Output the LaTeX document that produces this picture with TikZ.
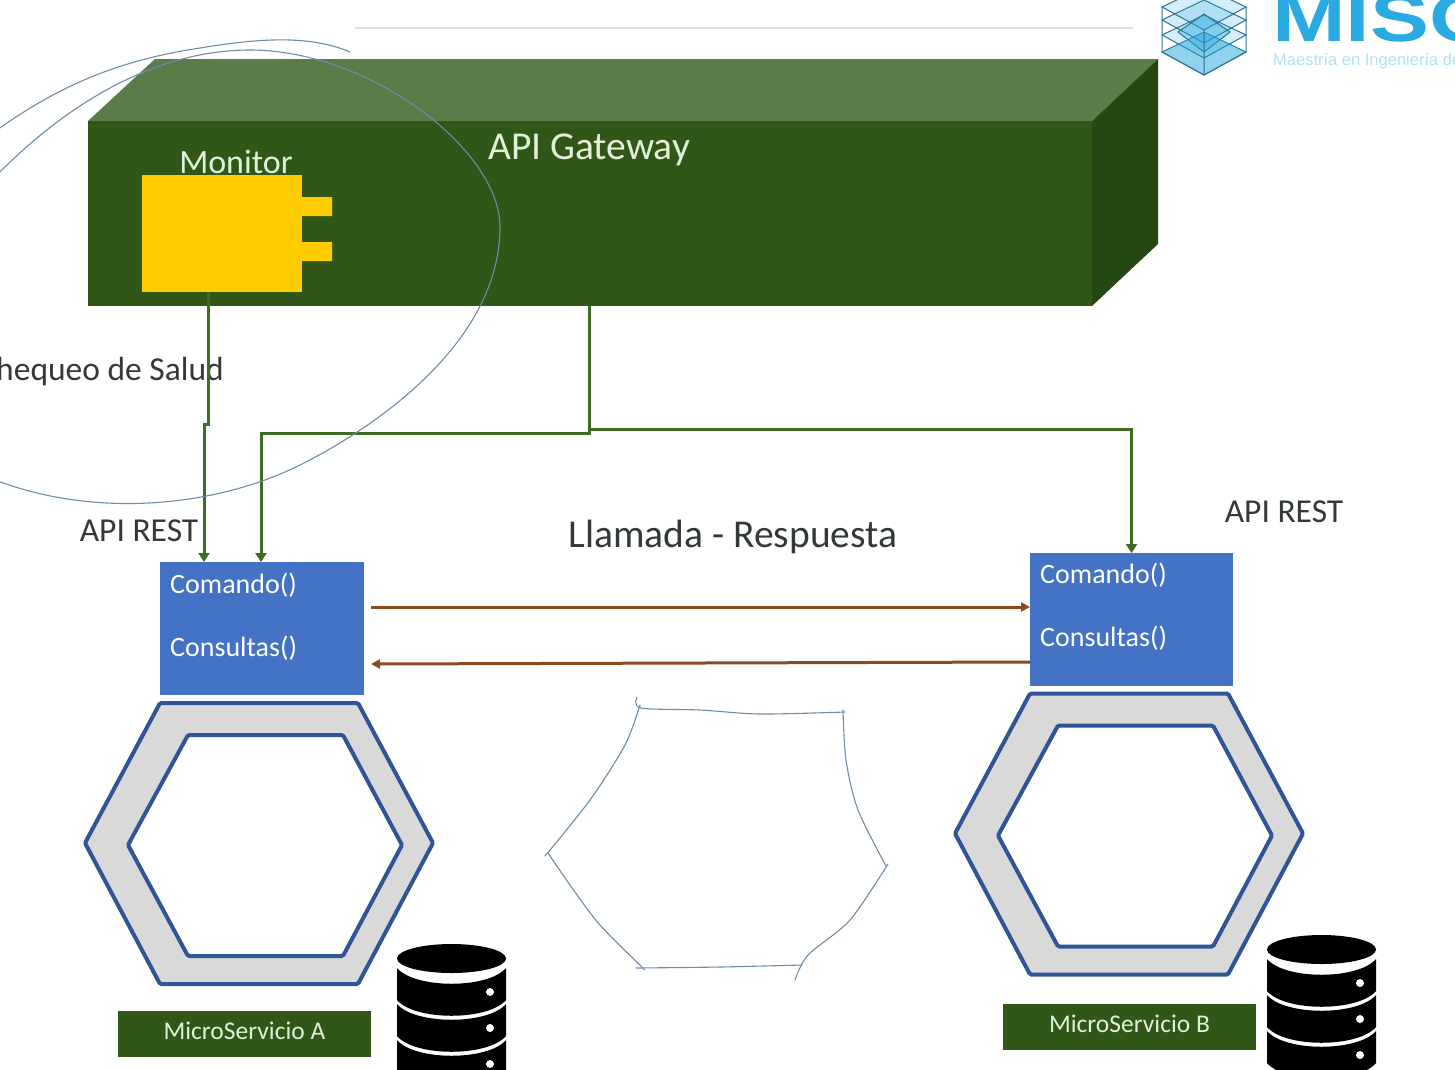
\documentclass[tikz,border=0pt]{standalone}
\usepackage{graphicx}
\usepackage{fontspec}
\setmainfont{Carlito}
\newfontfamily\logofont{Liberation Sans}
\usetikzlibrary{arrows.meta,calc}
\definecolor{gwfront}{HTML}{305717}
\definecolor{gwtop}{HTML}{5B7B49}
\definecolor{gwside}{HTML}{264711}
\definecolor{wire}{HTML}{3F6B25}
\definecolor{brownwire}{HTML}{8A4A22}
\definecolor{hexline}{HTML}{2F5597}
\definecolor{hexfill}{HTML}{D9D9D9}
\definecolor{iface}{HTML}{4472C4}
\definecolor{ink}{HTML}{33393B}
\definecolor{pale}{HTML}{E2F0D9}
\definecolor{sketchline}{HTML}{6F8CA8}
\definecolor{logoblue}{HTML}{29ABE2}
\definecolor{amber}{HTML}{FFCC00}
\definecolor{rule}{HTML}{D5E3E8}
\tikzset{
  x=1pt,y=-1pt,
  flat/.style={inner sep=0pt,outer sep=0pt,draw=none},
  ifacebox/.style={flat,fill=iface,minimum width=203pt,minimum height=133pt},
  msbox/.style={flat,fill=gwfront,minimum width=253pt,minimum height=46pt},
  mstext/.style={inner sep=0pt,text=pale,font=\fontsize{25.5}{29}\selectfont},
  inbox/.style={inner sep=0pt,text=white,anchor=west,font=\fontsize{28}{32}\selectfont},
  darktext/.style={inner sep=0pt,text=ink,font=\fontsize{33.5}{38}\selectfont},
  wiregreen/.style={draw=wire,line width=3pt,-{Triangle[length=9pt,width=11pt]}},
  wirebrown/.style={draw=brownwire,line width=3pt,-{Triangle[length=9pt,width=9pt]}},
  hexouter/.style={draw=hexline,fill=hexfill,line width=4pt,rounded corners=1.5pt},
  hexinner/.style={draw=hexline,fill=white,line width=4pt,rounded corners=1.5pt},
  sketch/.style={draw=sketchline,line width=1.1pt,line cap=round},
  layer/.style={draw=black!35!logoblue!80!gray,line width=1pt,fill=logoblue,fill opacity=.2},
}
\newcommand{\hexagonpair}[2]{%
  \begin{scope}[shift={(#1,#2)}]
    \draw[hexouter] (85,843)--(160,703)--(358,703)--(433,843)--(358,984)--(160,984)--cycle;
    \draw[hexinner] (128,845)--(188,735)--(343,735)--(402,845)--(343,956)--(188,956)--cycle;
  \end{scope}}
\newcommand{\dbstack}[2]{%
  \begin{scope}[shift={(#1,#2)}]
    \fill[black] (397,958.5) arc[x radius=54.5pt,y radius=14.5pt,start angle=180,end angle=540];
    \foreach \dy in {0,36,72}{
      \fill[black] ($(397,968)+(0,\dy)$) .. controls ($(415,989)+(0,\dy)$) and ($(488,989)+(0,\dy)$) .. ($(506,968)+(0,\dy)$) -- ($(506,1000)+(0,\dy)$) .. controls ($(488,1021)+(0,\dy)$) and ($(415,1021)+(0,\dy)$) .. ($(397,1000)+(0,\dy)$) -- cycle;
      \fill[white] ($(490,992)+(0,\dy)$) circle[radius=4pt];
    }
  \end{scope}}
\begin{document}
\begin{tikzpicture}
\useasboundingbox (0,0) rectangle (1455,1069);
\clip (0,0) rectangle (1455,1069);
\fill[white] (0,0) rectangle (1455,1069);
% top rule
\draw[draw=rule,line width=2pt] (355,28)--(1133,28);
% logo
\foreach \c in {52,35,20,7}{
  \draw[layer] (1162,\c)--(1204,\c-20)--(1246,\c)--(1204,\c+23)--cycle;
}
\draw[layer,fill opacity=.35] (1178,32)--(1204,14)--(1230,32)--(1204,52)--cycle;
\fill[logoblue,opacity=.4] (1162,52)--(1204,75)--(1246,52)--(1204,32)--cycle;
\draw[black!35!logoblue!80!gray,line width=1pt] (1162,7)--(1162,52)--(1204,75)--(1246,52)--(1246,7) (1204,30)--(1204,75);
\node[inner sep=0pt,anchor=base west,text=logoblue,font=\logofont\bfseries\fontsize{68}{74}\selectfont] (miso) at (1272,41) {\scalebox{1.3}[1]{MISO}};
\node[inner sep=0pt,anchor=west,text=logoblue!35,font=\logofont\fontsize{16.5}{18}\selectfont] (misosub) at (1273,61) {Maestría en Ingeniería de Software};
% gateway
\fill[gwtop] (88,121)--(155,59)--(1158,59)--(1092,121)--cycle;
\fill[gwside] (1092,121)--(1158,59)--(1158,244)--(1092,306)--cycle;
\node[flat,fill=gwfront,minimum width=1004pt,minimum height=185pt] (gateway) at (590,213.5) {};
\node[inner sep=0pt,text=pale,font=\fontsize{39.5}{44}\selectfont] (gwlabel) at (589,150) {API Gateway};
% monitor
\node[inner sep=0pt,text=pale,font=\fontsize{34}{38}\selectfont] (monlabel) at (236,162) {Monitor};
\node[flat,fill=amber,minimum width=160pt,minimum height=117pt] (monitor) at (222,233.5) {};
\fill[amber] (302,197) rectangle (332,216) (302,242) rectangle (332,261);
% hexagons
\hexagonpair{0}{0}
\hexagonpair{870}{-9.5}
% interface boxes
\node[ifacebox,minimum width=204pt] (restA) at (262,628.5) {};
\node[ifacebox] (restB) at (1131.5,619.5) {};
\node[inbox] (cmdA) at (170,585) {Comando()};
\node[inbox] (qryA) at (170,648) {Consultas()};
\node[inbox] (cmdB) at (1040,575) {Comando()};
\node[inbox] (qryB) at (1040,638) {Consultas()};
% labels
\node[darktext,anchor=east] (health) at (224,372) {Chequeo de Salud};
\node[darktext] (apiA) at (139,531) {API REST};
\node[darktext] (apiB) at (1284,512) {API REST};
\node[inner sep=0pt,text=ink,font=\fontsize{39.5}{44}\selectfont] (call) at (733,537) {Llamada - Respuesta};
% connectors
\draw[wiregreen] ([xshift=-14pt]monitor.south) -- ++(0,132) -| ([xshift=-58pt]restA.north);
\draw[wiregreen] ([xshift=-1pt]gateway.south) -- ++(0,127) -| ([xshift=-1pt]restA.north);
\draw[wiregreen] ([xshift=-1pt]gateway.south) ++(0,123) -| (restB.north);
\draw[wirebrown] ([xshift=7pt,yshift=21.5pt]restA.east) -- ([yshift=12.5pt]restB.west);
\draw[wirebrown] ([yshift=-42.5pt]restB.west) -- ([xshift=7pt,yshift=-35.5pt]restA.east);
% microservice captions
\node[msbox] (msA) at (244.5,1034) {};
\node[msbox] (msB) at (1129.5,1027) {};
\node[mstext] (msAtext) at (244.5,1031) {MicroServicio A};
\node[mstext] (msBtext) at (1129.5,1024) {MicroServicio B};
% databases
\dbstack{0}{0}
\dbstack{870}{-9}
% hand-drawn sketch: ellipse strokes
\draw[sketch] (350,52) .. controls (310,35) and (260,38) .. (200,48) .. controls (120,60) and (60,85) .. (-3,130);
\draw[sketch] (-5,177) .. controls (60,110) and (150,50) .. (250,50) .. controls (370,50) and (500,150) .. (500,227) .. controls (500,340) and (380,425) .. (300,465) .. controls (220,505) and (100,520) .. (-5,480);
% hand-drawn sketch: hexagon
\draw[sketch] plot[smooth,tension=.5] coordinates {(637,697)(641,708)(700,710)(760,714)(845,712)};
\draw[sketch] plot[smooth,tension=.5] coordinates {(843,710)(846,760)(858,810)(886,866)};
\draw[sketch] plot[smooth,tension=.5] coordinates {(888,864)(850,920)(808,955)(795,980)};
\draw[sketch] plot[smooth,tension=.5] coordinates {(802,965)(720,967)(636,968)};
\draw[sketch] plot[smooth,tension=.5] coordinates {(645,970)(600,925)(570,885)(548,853)};
\draw[sketch] plot[smooth,tension=.5] coordinates {(545,856)(590,800)(625,745)(640,705)};
\end{tikzpicture}
\end{document}
